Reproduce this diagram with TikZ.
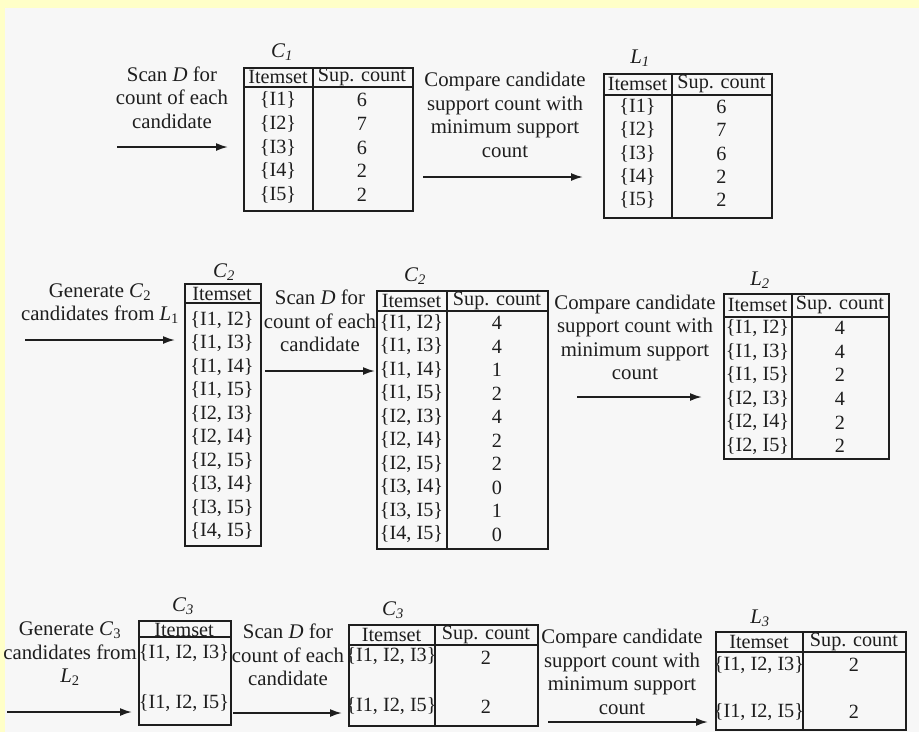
\documentclass[tikz,border=0pt]{standalone}
\usepackage{fontspec}
\setmainfont{Liberation Serif}
\usepackage{tikz}
\usetikzlibrary{arrows.meta, positioning, calc}
\definecolor{pageyellow}{RGB}{255,255,200}
\definecolor{paperwhite}{RGB}{247,247,247}
\definecolor{inkgray}{RGB}{30,30,30}

\begin{document}
\begin{tikzpicture}[x=1pt, y=-1pt,
    every node/.style={text=inkgray, font=\fontsize{20.8}{23.5}\selectfont, inner sep=0pt},
    cell/.style={font=\fontsize{20.2}{23.5}\selectfont},
    tbl/.style={draw=inkgray, line width=2pt, anchor=north west},
    rule/.style={draw=inkgray, line width=1.6pt},
    txt/.style={align=center},
    arr/.style={-{Latex[length=12pt,width=8pt]}, draw=inkgray, line width=1.8pt}]

    % Page
    \useasboundingbox (0,0) rectangle (919,732);
    \fill[pageyellow] (0,0) rectangle (919,732);
    \fill[paperwhite] (5,8) rectangle (919,732);

    % First pass: C1 -> L1
    \node[txt] (scan1) at (172,97.5) {Scan \textit{D} for\\count of each\\candidate};
    \coordinate (a1) at (117,147);
    \node[tbl, minimum width=169pt, minimum height=143pt] (C1) at (243,67) {};
    \draw[rule] (243,87) -- (412,87) (313,67) -- (313,210);
    \node (C1lbl) at (282,52) {\textit{C\textsubscript{1}}};
    \node[cell] (C1h1) at (278,77) {Itemset};
    \node[cell] (C1h2) at (362,77) {Sup. count};
    \foreach \s/\n [count=\k from 0] in {I1/6,I2/7,I3/6,I4/2,I5/2} {
        \node[cell] (C1i\k) at (278,100+23.75*\k) {\{\s\}};
        \node[cell] (C1n\k) at (362,100+23.75*\k) {\n};
    }
    \draw[arr, shorten >=15pt] (a1) -- (a1 -| C1.west);

    \node[txt] (cmp1) at (505,115) {Compare candidate\\support count with\\minimum support\\count};
    \coordinate (a2) at (423,177);
    \node[tbl, minimum width=168pt, minimum height=144pt] (L1) at (603,73) {};
    \draw[rule] (603,95) -- (771,95) (672,73) -- (672,217);
    \node (L1lbl) at (640,58) {\textit{L\textsubscript{1}}};
    \node[cell] (L1h1) at (637.5,84) {Itemset};
    \node[cell] (L1h2) at (721.5,84) {Sup. count};
    \foreach \s/\n [count=\k from 0] in {I1/6,I2/7,I3/6,I4/2,I5/2} {
        \node[cell] (L1i\k) at (637.5,107+23.3*\k) {\{\s\}};
        \node[cell] (L1n\k) at (721.5,107+23.3*\k) {\n};
    }
    \draw[arr, shorten >=20pt] (a2) -- (a2 -| L1.west);

    % Second pass: C2 -> C2 -> L2
    \node[txt] (gen2) at (100,303.5) {Generate \textit{C}\textsubscript{2}\\candidates from \textit{L}\textsubscript{1}};
    \coordinate (b1) at (25,340);
    \node[tbl, minimum width=76pt, minimum height=262pt] (C2a) at (184,283) {};
    \draw[rule] (184,303) -- (260,303);
    \node (C2albl) at (224,272) {\textit{C\textsubscript{2}}};
    \node[cell] (C2ah) at (222,293.5) {Itemset};
    \foreach \s [count=\k from 0] in {{I1, I2},{I1, I3},{I1, I4},{I1, I5},{I2, I3},{I2, I4},{I2, I5},{I3, I4},{I3, I5},{I4, I5}} {
        \node[cell] (C2ai\k) at (222,320+23.5*\k) {\{\s\}};
    }
    \draw[arr, shorten >=9pt] (b1) -- (b1 -| C2a.west);

    \node[txt] (scan2) at (320,321) {Scan \textit{D} for\\count of each\\candidate};
    \coordinate (b2) at (265,371);
    \node[tbl, minimum width=171pt, minimum height=258pt] (C2b) at (376,290) {};
    \draw[rule] (376,311) -- (547,311) (447,290) -- (447,548);
    \node (C2blbl) at (415,276) {\textit{C\textsubscript{2}}};
    \node[cell] (C2bh1) at (411.5,300.5) {Itemset};
    \node[cell] (C2bh2) at (497,300.5) {Sup. count};
    \foreach \s/\n [count=\k from 0] in {{I1, I2}/4,{I1, I3}/4,{I1, I4}/1,{I1, I5}/2,{I2, I3}/4,{I2, I4}/2,{I2, I5}/2,{I3, I4}/0,{I3, I5}/1,{I4, I5}/0} {
        \node[cell] (C2bi\k) at (411.5,323+23.5*\k) {\{\s\}};
        \node[cell] (C2bn\k) at (497,323+23.5*\k) {\n};
    }
    \draw[arr, shorten >=1pt] (b2) -- (b2 -| C2b.west);

    \node[txt] (cmp2) at (635,337.5) {Compare candidate\\support count with\\minimum support\\count};
    \coordinate (b3) at (577,397);
    \node[tbl, minimum width=165pt, minimum height=165pt] (L2) at (723,293) {};
    \draw[rule] (723,317) -- (888,317) (792,293) -- (792,458);
    \node (L2lbl) at (760,280) {\textit{L\textsubscript{2}}};
    \node[cell] (L2h1) at (757.5,305) {Itemset};
    \node[cell] (L2h2) at (840,305) {Sup. count};
    \foreach \s/\n [count=\k from 0] in {{I1, I2}/4,{I1, I3}/4,{I1, I5}/2,{I2, I3}/4,{I2, I4}/2,{I2, I5}/2} {
        \node[cell] (L2i\k) at (757.5,328+23.6*\k) {\{\s\}};
        \node[cell] (L2n\k) at (840,328+23.6*\k) {\n};
    }
    \draw[arr, shorten >=21pt] (b3) -- (b3 -| L2.west);

    % Third pass: C3 -> C3 -> L3
    \node[txt] (gen3) at (70,654) {Generate \textit{C}\textsubscript{3}\\candidates from\\\textit{L}\textsubscript{2}};
    \coordinate (c1) at (7,712);
    \node[tbl, minimum width=92pt, minimum height=104pt] (C3a) at (138,620) {};
    \draw[rule] (138,637) -- (230,637);
    \node (C3albl) at (183,606) {\textit{C\textsubscript{3}}};
    \node[cell] (C3ah) at (184,630) {Itemset};
    \node[cell] (C3ai0) at (184,653) {\{I1, I2, I3\}};
    \node[cell] (C3ai1) at (184,703) {\{I1, I2, I5\}};
    \draw[arr, shorten >=6pt] (c1) -- (c1 -| C3a.west);

    \node[txt] (scan3) at (288,655) {Scan \textit{D} for\\count of each\\candidate};
    \coordinate (c2) at (233,713);
    \node[tbl, minimum width=189pt, minimum height=101pt] (C3b) at (348,624) {};
    \draw[rule] (348,645) -- (537,645) (435,624) -- (435,725);
    \node (C3blbl) at (393,610) {\textit{C\textsubscript{3}}};
    \node[cell] (C3bh1) at (391.5,635) {Itemset};
    \node[cell] (C3bh2) at (486,635) {Sup. count};
    \node[cell] (C3bi0) at (391.5,656) {\{I1, I2, I3\}};
    \node[cell] (C3bn0) at (486,658) {2};
    \node[cell] (C3bi1) at (391.5,706) {\{I1, I2, I5\}};
    \node[cell] (C3bn1) at (486,707) {2};
    \draw[arr, shorten >=6pt] (c2) -- (c2 -| C3b.west);

    \node[txt] (cmp3) at (622,672) {Compare candidate\\support count with\\minimum support\\count};
    \coordinate (c3) at (548,722);
    \node[tbl, minimum width=190pt, minimum height=98pt] (L3) at (715,631) {};
    \draw[rule] (715,652) -- (905,652) (803,631) -- (803,729);
    \node (L3lbl) at (760,618) {\textit{L\textsubscript{3}}};
    \node[cell] (L3h1) at (759,642) {Itemset};
    \node[cell] (L3h2) at (854,642) {Sup. count};
    \node[cell] (L3i0) at (759,665) {\{I1, I2, I3\}};
    \node[cell] (L3n0) at (854,665) {2};
    \node[cell] (L3i1) at (759,712) {\{I1, I2, I5\}};
    \node[cell] (L3n1) at (854,712) {2};
    \draw[arr, shorten >=7pt] (c3) -- (c3 -| L3.west);
\end{tikzpicture}
\end{document}
